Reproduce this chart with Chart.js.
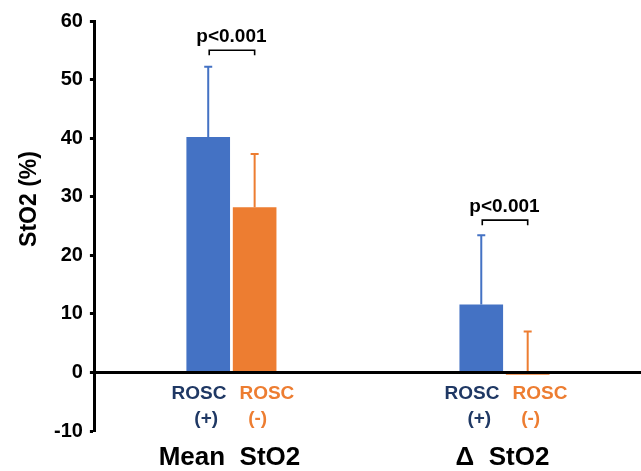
<!DOCTYPE html>
<html>
<head>
<meta charset="utf-8">
<script src="https://cdn.jsdelivr.net/npm/chart.js@4.4.0/dist/chart.umd.min.js"></script>
<style>
  body { margin: 0; background: #fff; }
  #wrap { width: 641px; height: 471px; }
</style>
</head>
<body>
<div id="wrap"><canvas id="grafico" width="641" height="471"></canvas></div>
<script>
// Datos del gráfico
const categorias = ['Mean  StO2', 'Δ  StO2'];
const roscPos = [40.2, 11.6];
const roscNeg = [28.2, -0.4];
const sdPos = [12.0, 11.8];
const sdNeg = [9.1, 7.4];
const nivelP = [55, 26];
const textoP = ['p<0.001', 'p<0.001'];
const yTicks = [-10, 0, 10, 20, 30, 40, 50, 60];

const azul = '#4472C4';
const naranja = '#ED7D31';
const azulOscuro = '#1F3864';
const fuente = '"Liberation Sans", Arial, sans-serif';

// Barras de error, linea del cero, corchetes y etiquetas
const extras = {
  id: 'extras',
  afterDatasetsDraw(chart) {
    const ctx = chart.ctx;
    const y = chart.scales.y;
    const x = chart.scales.x;
    const area = chart.chartArea;
    const sds = [sdPos, sdNeg];
    const colores = [azul, naranja];

    // error bars (solo hacia arriba)
    chart.data.datasets.forEach((ds, i) => {
      const meta = chart.getDatasetMeta(i);
      meta.data.forEach((bar, j) => {
        const top = y.getPixelForValue(ds.data[j] + sds[i][j]);
        const base = y.getPixelForValue(Math.max(ds.data[j], 0));
        ctx.save();
        ctx.strokeStyle = colores[i];
        ctx.lineWidth = 2;
        ctx.beginPath();
        ctx.moveTo(bar.x, base);
        ctx.lineTo(bar.x, top);
        ctx.moveTo(bar.x - 4, top);
        ctx.lineTo(bar.x + 4, top);
        ctx.stroke();
        ctx.restore();
      });
    });

    // linea del cero
    const y0 = y.getPixelForValue(0);
    ctx.save();
    ctx.strokeStyle = '#000';
    ctx.lineWidth = 3;
    ctx.beginPath();
    ctx.moveTo(area.left, y0);
    ctx.lineTo(area.right, y0);
    ctx.stroke();
    ctx.restore();

    const m0 = chart.getDatasetMeta(0);
    const m1 = chart.getDatasetMeta(1);
    categorias.forEach((c, j) => {
      const xa = m0.data[j].x;
      const xb = m1.data[j].x;
      const centro = x.getPixelForValue(j);

      // corchete p
      const yb = y.getPixelForValue(nivelP[j]);
      ctx.save();
      ctx.strokeStyle = '#000';
      ctx.lineWidth = 1.6;
      ctx.beginPath();
      ctx.moveTo(xa + 1, yb + 5);
      ctx.lineTo(xa + 1, yb);
      ctx.lineTo(xb, yb);
      ctx.lineTo(xb, yb + 5);
      ctx.stroke();
      ctx.fillStyle = '#000';
      ctx.font = 'bold 19px ' + fuente;
      ctx.textAlign = 'center';
      ctx.textBaseline = 'bottom';
      ctx.fillText(textoP[j], (xa + xb) / 2, yb - 4);

      // etiquetas ROSC
      const yl = y0 + 21;
      ctx.font = 'bold 19px ' + fuente;
      ctx.textBaseline = 'middle';
      ctx.fillStyle = azulOscuro;
      ctx.textAlign = 'right';
      ctx.fillText('ROSC', centro - 5, yl);
      ctx.textAlign = 'center';
      ctx.fillText('(+)', xa - 2, yl + 25);
      ctx.fillStyle = naranja;
      ctx.textAlign = 'left';
      ctx.fillText('ROSC', centro + 8, yl);
      ctx.textAlign = 'center';
      ctx.fillText('(-)', xb + 3, yl + 25);

      // etiqueta de categoria
      ctx.fillStyle = '#000';
      ctx.font = 'bold 26px ' + fuente;
      ctx.fillText(c, centro - 2, area.bottom + 27);
      ctx.restore();
    });

    // titulo del eje Y
    ctx.save();
    ctx.translate(30, (area.top + area.bottom) / 2 - 27);
    ctx.rotate(-Math.PI / 2);
    ctx.font = 'bold 23px ' + fuente;
    ctx.fillStyle = '#000';
    ctx.textAlign = 'center';
    ctx.textBaseline = 'middle';
    ctx.fillText('StO2 (%)', 0, 0);
    ctx.restore();
  }
};

const ctx = document.getElementById('grafico').getContext('2d');
const myChart = new Chart(ctx, {
  type: 'bar',
  data: {
    labels: categorias,
    datasets: [
      { label: 'ROSC (+)', data: roscPos, backgroundColor: azul },
      { label: 'ROSC (-)', data: roscNeg, backgroundColor: naranja }
    ]
  },
  options: {
    responsive: false,
    animation: false,
    categoryPercentage: 0.34,
    barPercentage: 0.94,
    layout: { padding: { left: 47, top: 21, right: 0, bottom: 40 } },
    plugins: { legend: { display: false }, tooltip: { enabled: false } },
    scales: {
      x: {
        display: false
      },
      y: {
        min: -10,
        max: 60,
        afterBuildTicks: s => { s.ticks = yTicks.map(v => ({ value: v })); },
        grid: {
          color: 'transparent',
          drawOnChartArea: false,
          tickColor: '#000',
          tickLength: 5,
          tickWidth: 3
        },
        border: { color: '#000', width: 3 },
        ticks: {
          color: '#000',
          padding: 7,
          font: { family: fuente, size: 20, weight: 'bold' }
        }
      }
    }
  },
  plugins: [extras]
});
</script>
</body>
</html>
